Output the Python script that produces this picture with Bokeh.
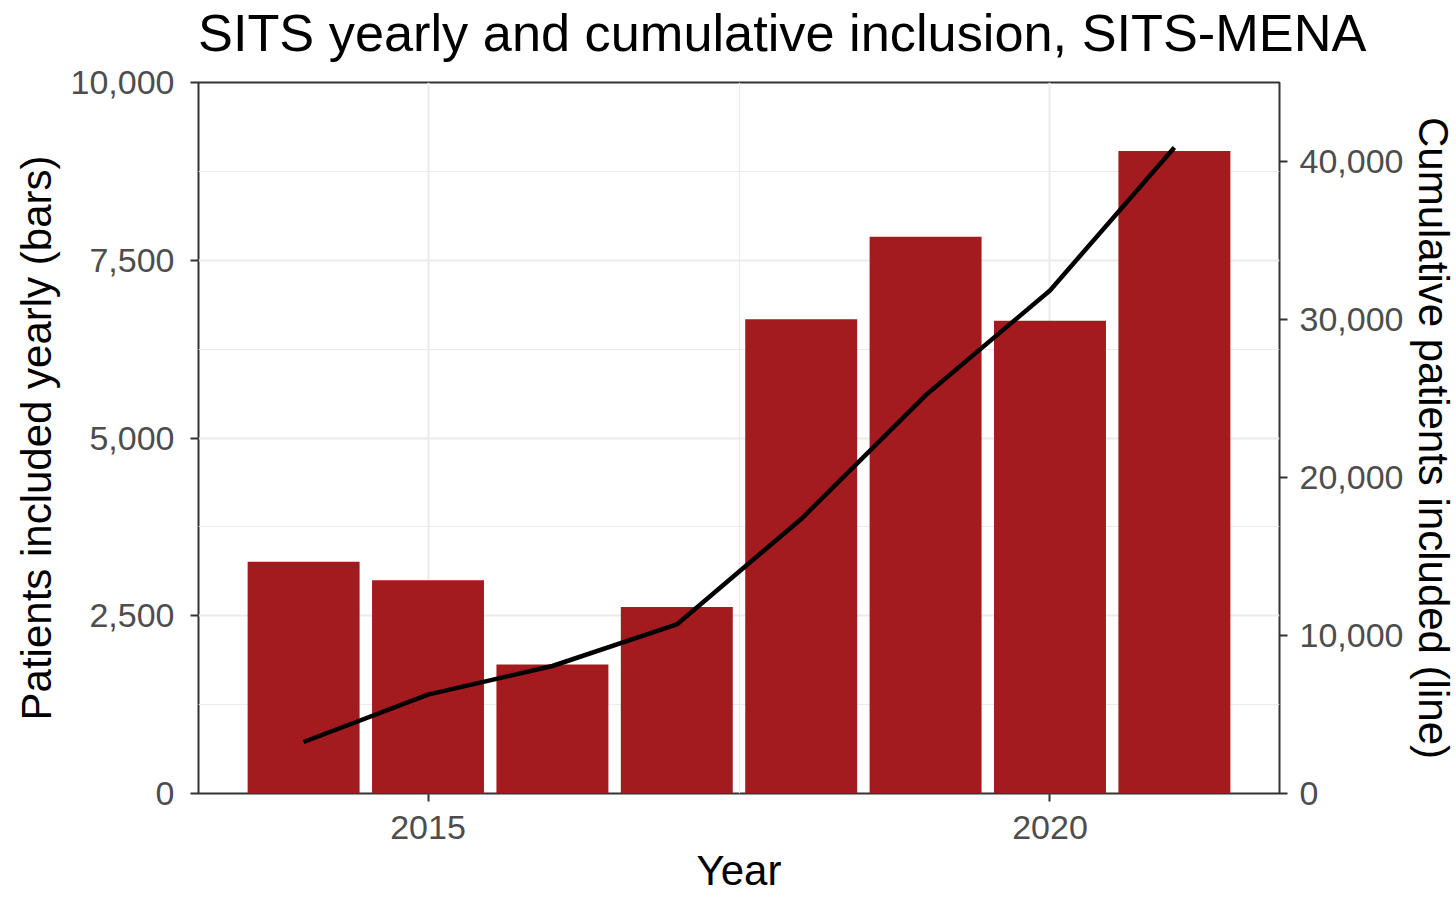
from bokeh.plotting import figure
from bokeh.models import Range1d, LinearAxis, FixedTicker, NumeralTickFormatter, Div
from bokeh.layouts import column
from bokeh.embed import file_html
from bokeh.resources import INLINE

# Data
years = [2014, 2015, 2016, 2017, 2018, 2019, 2020, 2021]
yearly = [3259, 3000, 1814, 2624, 6671, 7830, 6650, 9036]
cumulative = [3260, 6260, 8070, 10700, 17370, 25200, 31840, 40880]
left_ticks = [0, 2500, 5000, 7500, 10000]
right_ticks = [0, 10000, 20000, 30000, 40000]
x_ticks = [2015, 2020]
title_text = "SITS yearly and cumulative inclusion, SITS-MENA"

FONT = "Liberation Sans"
BAR = "#A41B1F"
GRID = "#EBEBEB"
DARK = "#333333"
TICKTXT = "#4D4D4D"

p = figure(frame_width=1081, frame_height=711,
           x_range=Range1d(2013.155, 2021.845), y_range=Range1d(0, 10000),
           output_backend="svg", toolbar_location=None,
           min_border_left=198, min_border_top=20, min_border_right=10, min_border_bottom=4)

p.extra_y_ranges = {"cum": Range1d(0, 45000)}

p.outline_line_color = DARK
p.outline_line_width = 2
p.background_fill_color = "white"
p.border_fill_color = "white"

# grids
p.xgrid.ticker = FixedTicker(ticks=x_ticks, minor_ticks=[2012.5, 2017.5, 2022.5])
p.ygrid.ticker = FixedTicker(ticks=left_ticks, minor_ticks=[1250, 3750, 6250, 8750])
for g in (p.xgrid, p.ygrid):
    g.grid_line_color = GRID
    g.grid_line_width = 2
    g.minor_grid_line_color = GRID
    g.minor_grid_line_width = 1.2

# bars and line
p.vbar(x=years, top=yearly, width=0.9, fill_color=BAR, line_color=None)
p.line(x=years, y=cumulative, y_range_name="cum", line_color="black", line_width=4.5)

def style_axis(ax, standoff, label_standoff):
    ax.axis_line_color = None
    ax.major_tick_line_color = DARK
    ax.major_tick_line_width = 2
    ax.major_tick_out = 8
    ax.major_tick_in = 0
    ax.minor_tick_line_color = None
    ax.major_label_text_font = FONT
    ax.major_label_text_font_size = "34px"
    ax.major_label_text_color = TICKTXT
    ax.major_label_standoff = standoff
    ax.axis_label_text_font = FONT
    ax.axis_label_text_font_size = "42px"
    ax.axis_label_text_font_style = "normal"
    ax.axis_label_text_color = "black"
    ax.axis_label_standoff = label_standoff

# x axis
xa = p.xaxis[0]
xa.ticker = FixedTicker(ticks=x_ticks)
xa.formatter = NumeralTickFormatter(format="0")
xa.axis_label = "Year"
style_axis(xa, 14, 5)

# left y axis
ya = p.yaxis[0]
ya.ticker = FixedTicker(ticks=left_ticks)
ya.formatter = NumeralTickFormatter(format="0,0")
ya.axis_label = "Patients included yearly (bars)"
style_axis(ya, 16, 8)

# right y axis
ra = LinearAxis(y_range_name="cum", axis_label="Cumulative patients included (line)")
ra.ticker = FixedTicker(ticks=right_ticks)
ra.formatter = NumeralTickFormatter(format="0,0")
style_axis(ra, 12, 4)
p.add_layout(ra, "right")

# title, left aligned with the panel
title = Div(text=title_text, width=1400, height=62, margin=0,
            styles={"font-family": FONT, "font-size": "52.3px", "line-height": "60px",
                    "padding-left": "198px", "padding-top": "3px", "color": "black",
                    "white-space": "nowrap", "box-sizing": "border-box"})

layout = column(title, p, spacing=0)

open("out.html", "w").write(file_html(layout, INLINE))
